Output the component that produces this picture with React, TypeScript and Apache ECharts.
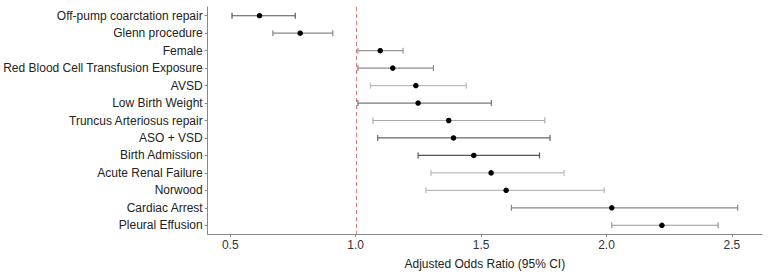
import React, { useEffect, useRef } from "react";
import * as echarts from "echarts";

const categories = [
  "Off-pump coarctation repair",
  "Glenn procedure",
  "Female",
  "Red Blood Cell Transfusion Exposure",
  "AVSD",
  "Low Birth Weight",
  "Truncus Arteriosus repair",
  "ASO + VSD",
  "Birth Admission",
  "Acute Renal Failure",
  "Norwood",
  "Cardiac Arrest",
  "Pleural Effusion",
];
const oddsRatio = [0.617, 0.779, 1.098, 1.148, 1.24, 1.249, 1.371, 1.39, 1.471, 1.54, 1.6, 2.021, 2.221];
const ciLower = [0.507, 0.67, 1.009, 1.009, 1.059, 1.009, 1.069, 1.088, 1.249, 1.3, 1.28, 1.621, 2.021];
const ciUpper = [0.759, 0.909, 1.189, 1.31, 1.441, 1.541, 1.754, 1.775, 1.733, 1.831, 1.991, 2.523, 2.445];
const xTicks = [0.5, 1.0, 1.5, 2.0, 2.5];
const referenceLine = 1.0;
const barColors = ["#555555", "#888888", "#999999", "#8a8a8a", "#bbbbbb", "#777777", "#aaaaaa", "#666666", "#555555", "#bbbbbb", "#bbbbbb", "#888888", "#999999"];

export default function App() {
  const ref = useRef<HTMLDivElement>(null);
  useEffect(() => {
    document.body.style.margin = "0";
    if (!ref.current) return;
    const chart = echarts.init(ref.current, null, { renderer: "svg" });
    const reversedCats = [...categories].reverse();
    const barData = categories.map((c, i) => ({
      value: [ciLower[i], ciUpper[i], c],
      itemStyle: { color: barColors[i] },
    }));
    const pointData = categories.map((c, i) => [oddsRatio[i], c]);
    chart.setOption({
      animation: false,
      textStyle: { fontFamily: "Liberation Sans, Arial, sans-serif" },
      grid: { left: 206, right: 6, top: 7, height: 235 },
      xAxis: {
        type: "value",
        min: 0.41,
        max: 2.62,
        name: "Adjusted Odds Ratio (95% CI)",
        nameLocation: "middle",
        nameGap: 24,
        nameTextStyle: { color: "#222", fontSize: 12, fontFamily: "Liberation Sans, Arial, sans-serif" },
        axisLine: { show: true, lineStyle: { color: "#888", width: 1 } },
        axisTick: { show: true, length: 3, lineStyle: { color: "#888" }, customValues: xTicks },
        axisLabel: {
          color: "#333",
          fontSize: 12,
          margin: 5,
          customValues: xTicks,
          formatter: (v: number) => v.toFixed(1),
        },
        splitLine: { show: false },
      },
      yAxis: {
        type: "category",
        data: reversedCats,
        axisLine: { show: true, lineStyle: { color: "#888", width: 1 } },
        axisTick: { show: true, length: 3, alignWithLabel: true, lineStyle: { color: "#888" } },
        axisLabel: { color: "#222", fontSize: 12, margin: 5 },
      },
      series: [
        {
          type: "custom",
          data: [[referenceLine, categories[0]]],
          encode: { x: 0, y: 1 },
          renderItem: (params: any, api: any) => {
            const p = api.coord([api.value(0), api.value(1)]);
            const cs = params.coordSys;
            const x = Math.round(p[0]) + 0.5;
            return {
              type: "line",
              shape: { x1: x, y1: cs.y, x2: x, y2: cs.y + cs.height },
              style: { stroke: "#e07777", lineWidth: 1, lineDash: [4, 3] },
            };
          },
          z: 1,
          silent: true,
        },
        {
          type: "custom",
          data: barData,
          encode: { x: [0, 1], y: 2 },
          renderItem: (params: any, api: any) => {
            const lo = api.coord([api.value(0), api.value(2)]);
            const hi = api.coord([api.value(1), api.value(2)]);
            const color = api.visual("color");
            const h = 3;
            const style = { stroke: color, lineWidth: 1.2 };
            return {
              type: "group",
              children: [
                { type: "line", shape: { x1: lo[0], y1: lo[1], x2: hi[0], y2: hi[1] }, style },
                { type: "line", shape: { x1: lo[0], y1: lo[1] - h, x2: lo[0], y2: lo[1] + h }, style },
                { type: "line", shape: { x1: hi[0], y1: hi[1] - h, x2: hi[0], y2: hi[1] + h }, style },
              ],
            };
          },
          z: 2,
        },
        {
          type: "scatter",
          data: pointData,
          symbol: "circle",
          symbolSize: 5.5,
          itemStyle: { color: "#000", opacity: 1 },
          z: 3,
        },
      ],
    });
    return () => chart.dispose();
  }, []);
  return <div ref={ref} style={{ width: 768, height: 275 }} />;
}
